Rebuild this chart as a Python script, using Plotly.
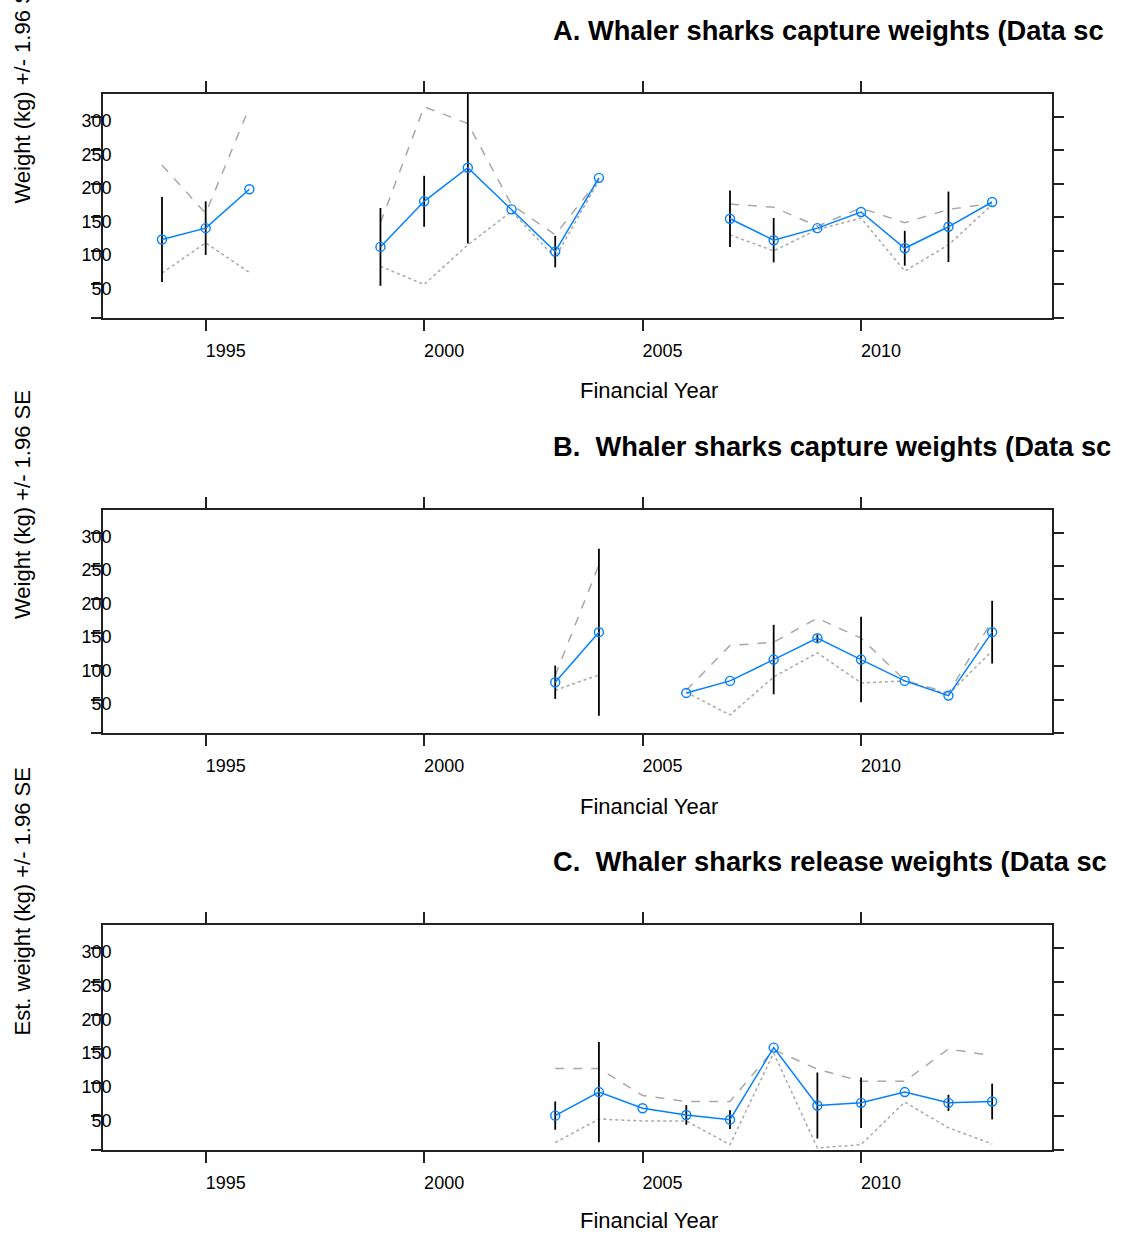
import plotly.graph_objects as go

# ---------------- data ----------------
years_A = list(range(1994, 2014))
mean_A = [117, 134, 192, None, None, 106, 174, 224, 162, 99, 209, None, None,
          148, 116, 134, 158, 104, 136, 173]
err_A = [63.5, 40, None, None, None, 58, 38, 113, None, 23.5, None, None, None,
         42, 33, None, None, 26, 52.5, None]
dashed_A = [228, 156, 314, None, None, 142, 315, 290, 169, 124, 207, None, None,
            170, 165, 137, 164, 142, 162, 171]
dotted_A = [67, 112, 68, None, None, 77, 50, 109, 159, 90, 205, None, None,
            124, 100, 132, 149, 70, 109, 169]

years_B = list(range(2003, 2014))
mean_B = [76, 151, None, 60, 78, 110, 142, 110, 78, 56, 151]
err_B = [25, 125, None, None, None, 52, 5.5, 64, None, None, 47]
dashed_B = [86, 252, None, 64, 131, 136, 172, 142, 79, 60, 168]
dotted_B = [64, 87, None, 61, 27, 84, 120, 75, 78, 58, 123]

years_C = list(range(2003, 2014))
mean_C = [51, 86, 62, 52, 45, 152, 66, 70, 86, 70, 72]
err_C = [21, 74.5, None, 14.5, 14, None, 49, 37.5, None, 12, 26.5]
dashed_C = [121, 121, 81, 72, 72, 149, 120, 102, 102, 150, 140]
dotted_C = [11, 46, 43, 43, 8, 144, 3, 8, 71, 33, 9]

x_ticks = [1995, 2000, 2005, 2010]
y_ticks = [0, 50, 100, 150, 200, 250, 300]
y_ticktext = ["", "50", "100", "150", "200", "250", "300"]

titles = ["A. Whaler sharks capture weights (Data sc",
          "B.\u00a0 Whaler sharks capture weights (Data sc",
          "C.\u00a0 Whaler sharks release weights (Data sc"]
y_titles = ["Weight (kg) +/- 1.96 SE", "Weight (kg) +/- 1.96 SE",
            "Est. weight (kg) +/- 1.96 SE"]
x_title = "Financial Year"

# ---------------- layout helpers ----------------
W, H = 1121, 1234
FONT = "Liberation Sans, Arial, sans-serif"
BLUE = "#0080ff"
GREY = "#a8a8a8"

def py(y):
    return 1 - y / H

x_dom = [103 / W, 1052 / W]
boxes = [(94, 318), (510, 733), (925, 1150)]
x_title_y = [391, 806, 1220]

panels = [
    (years_A, mean_A, err_A, dashed_A, dotted_A),
    (years_B, mean_B, err_B, dashed_B, dotted_B),
    (years_C, mean_C, err_C, dashed_C, dotted_C),
]

fig = go.Figure()
annotations = []
layout = {}

for i, (yrs, mean, err, dsh, dot) in enumerate(panels):
    n = i + 1
    xa = "x" if n == 1 else f"x{n}"
    ya = "y" if n == 1 else f"y{n}"
    fig.add_trace(go.Scatter(x=yrs, y=dsh, mode="lines", xaxis=xa, yaxis=ya,
                             line=dict(color=GREY, width=1.5, dash="dash"),
                             connectgaps=False, showlegend=False, hoverinfo="skip"))
    fig.add_trace(go.Scatter(x=yrs, y=dot, mode="lines", xaxis=xa, yaxis=ya,
                             line=dict(color=GREY, width=1.5, dash="dot"),
                             connectgaps=False, showlegend=False, hoverinfo="skip"))
    fig.add_trace(go.Scatter(x=yrs, y=mean, mode="lines+markers", xaxis=xa, yaxis=ya,
                             line=dict(color=BLUE, width=1.5),
                             marker=dict(symbol="circle-open", size=9, color=BLUE,
                                         line=dict(width=1.4, color=BLUE)),
                             error_y=dict(type="data", array=err, symmetric=True,
                                          color="black", thickness=1.8, width=0),
                             connectgaps=False, showlegend=False))

    top, bot = boxes[i]
    key_x = "xaxis" if n == 1 else f"xaxis{n}"
    key_y = "yaxis" if n == 1 else f"yaxis{n}"
    layout[key_x] = dict(
        domain=x_dom, anchor=ya, range=[1992.65, 2014.37],
        tickmode="array", tickvals=x_ticks, ticktext=[str(t) for t in x_ticks],
        ticks="outside", ticklen=11, tickwidth=1.5, tickcolor="#222",
        showline=True, linecolor="#222", linewidth=1.5, mirror="ticks",
        showgrid=False, zeroline=False,
        tickfont=dict(family=FONT, size=18, color="black"),
        ticklabelshift=20, ticklabelstandoff=5,
    )
    layout[key_y] = dict(
        domain=[py(bot), py(top)], anchor=xa, range=[0, 334],
        tickmode="array", tickvals=y_ticks, ticktext=y_ticktext,
        ticks="outside", ticklen=10, tickwidth=1.5, tickcolor="#222",
        showline=True, linecolor="#222", linewidth=1.5, mirror="ticks",
        showgrid=False, zeroline=False,
        tickfont=dict(family=FONT, size=18, color="black"),
        ticklabelshift=4, ticklabelstandoff=-24,
    )

    # panel title
    annotations.append(dict(text=f"<b>{titles[i]}</b>", xref="paper", yref="paper",
                            x=551 / W, y=py(top - 64), xanchor="left", yanchor="middle",
                            showarrow=False, font=dict(family=FONT, size=27.3, color="black")))
    # x title
    annotations.append(dict(text=x_title, xref="paper", yref="paper",
                            x=649 / W, y=py(x_title_y[i]), xanchor="center", yanchor="middle",
                            showarrow=False, font=dict(family=FONT, size=22, color="black")))
    # y title
    annotations.append(dict(text=y_titles[i], xref="paper", yref="paper",
                            x=22 / W, y=py((top + bot) / 2), xanchor="center", yanchor="bottom",
                            textangle=-90, showarrow=False,
                            font=dict(family=FONT, size=22, color="black")))

fig.update_layout(
    width=W, height=H, autosize=False,
    margin=dict(l=0, r=0, t=0, b=0),
    paper_bgcolor="white", plot_bgcolor="white",
    annotations=annotations,
    **layout,
)

fig.write_html("out.html")
